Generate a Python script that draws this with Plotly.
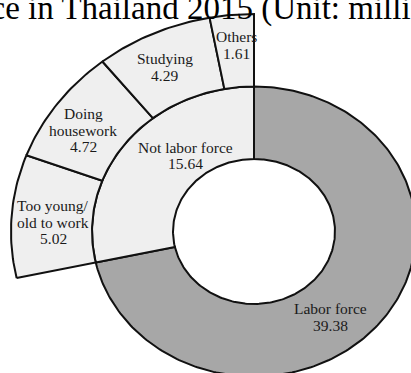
import numpy as np
import plotly.graph_objects as go

# ---- data ----
inner_labels = ["Labor force", "Not labor force"]
inner_values = [39.38, 15.64]
outer_parent = "Not labor force"
outer_labels = ["Too young/<br>old to work", "Doing<br>housework", "Studying", "Others"]
outer_values = [5.02, 4.72, 4.29, 1.61]
title_text = "Labor force in Thailand 2015 (Unit: million persons)"

# ---- style ----
inner_colors = ["#a7a7a7", "#efefef"]
outer_color = "#efefef"
line_style = dict(color="#111111", width=2)
font_family = "Liberation Serif, Times New Roman, serif"
# label anchor positions (axis units) for each slice
label_pos = {
    "Labor force": (0.94, -1.18),
    "Not labor force": (-0.84, 1.05),
    "Too young/<br>old to work": (-2.48, 0.13),
    "Doing<br>housework": (-2.11, 1.40),
    "Studying": (-1.10, 2.27),
    "Others": (-0.21, 2.57),
}

total = sum(inner_values)
R_HOLE, R_MID, R_OUT = 1.0, 2.0, 3.0


def wedge(a0, a1, r0, r1):
    n = max(int(abs(a1 - a0)), 2) + 1
    t = np.radians(np.linspace(a0, a1, n))
    xs = np.concatenate([r1 * np.cos(t), r0 * np.cos(t[::-1])])
    ys = np.concatenate([r1 * np.sin(t), r0 * np.sin(t[::-1])])
    return np.append(xs, xs[0]), np.append(ys, ys[0])


fig = go.Figure()
ann = []


def add_label(name, value):
    x, y = label_pos[name]
    lines = name.split("<br>") + [f"{value:.2f}"]
    n = len(lines)
    for i, ln in enumerate(lines):
        ann.append(dict(x=x, y=y, xref="x", yref="y", text=ln, showarrow=False,
                        yshift=-(i - (n - 1) / 2) * 16.5,
                        font=dict(family=font_family, size=15.5, color="#1a1a1a")))


angle = 90.0
parent_start = None
for lab, val, col in zip(inner_labels, inner_values, inner_colors):
    span = 360.0 * val / total
    if lab == outer_parent:
        parent_start = angle
    xs, ys = wedge(angle, angle - span, R_HOLE, R_MID)
    fig.add_trace(go.Scatter(x=xs, y=ys, mode="lines", fill="toself", fillcolor=col,
                             line=line_style, hoverinfo="skip"))
    add_label(lab, val)
    angle -= span

angle = parent_start
for lab, val in zip(outer_labels, outer_values):
    span = 360.0 * val / total
    xs, ys = wedge(angle, angle - span, R_MID, R_OUT)
    fig.add_trace(go.Scatter(x=xs, y=ys, mode="lines", fill="toself", fillcolor=outer_color,
                             line=line_style, hoverinfo="skip"))
    add_label(lab, val)
    angle -= span

ann.append(dict(x=0.521, y=0.977, xref="paper", yref="paper", xanchor="center", yanchor="middle",
                text=title_text, showarrow=False,
                font=dict(family=font_family, size=33, color="#000000")))

fig.update_layout(
    width=411, height=373,
    margin=dict(l=0, r=0, t=0, b=0),
    paper_bgcolor="white", plot_bgcolor="white",
    showlegend=False, hovermode=False,
    annotations=ann,
    xaxis=dict(range=[-254 / 81, 157 / 81], visible=False, fixedrange=True),
    yaxis=dict(range=[-141.5 / 72.5, 231.5 / 72.5], visible=False, fixedrange=True),
)

fig.write_html("out.html", config={"displayModeBar": False},
               post_script="document.body.style.margin='0';")
